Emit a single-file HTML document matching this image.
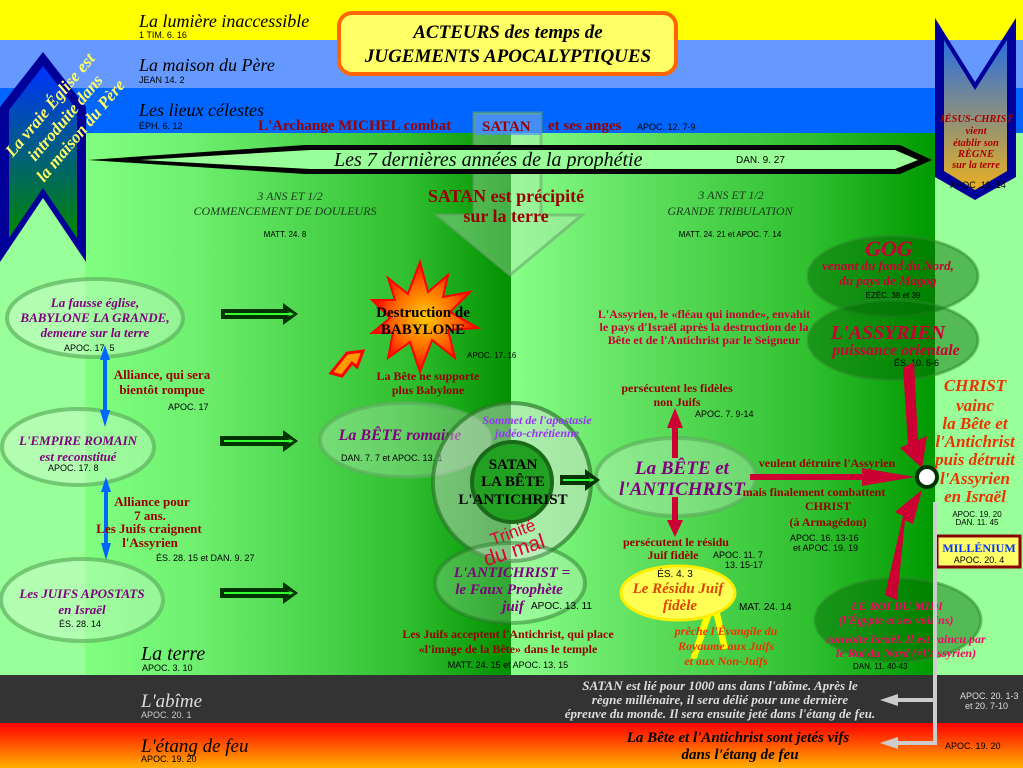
<!DOCTYPE html>
<html><head><meta charset="utf-8"><style>
html,body{margin:0;padding:0;width:1023px;height:768px;overflow:hidden}
svg{display:block}
.s{font-family:"Liberation Serif",serif}
.a{font-family:"Liberation Sans",sans-serif}
</style></head><body>
<svg width="1023" height="768" viewBox="0 0 1023 768" xmlns="http://www.w3.org/2000/svg">
<defs>
<linearGradient id="g1" x1="0" x2="1" y1="0" y2="0">
<stop offset="0" stop-color="#80ff80"/><stop offset="0.25" stop-color="#70f070"/><stop offset="0.75" stop-color="#30c030"/><stop offset="1" stop-color="#009000"/></linearGradient>
<linearGradient id="g2" x1="0" x2="1" y1="0" y2="0">
<stop offset="0" stop-color="#88ff88"/><stop offset="0.3" stop-color="#60e060"/><stop offset="0.7" stop-color="#30c030"/><stop offset="1" stop-color="#009900"/></linearGradient>
<linearGradient id="fire" x1="0" x2="0" y1="0" y2="1">
<stop offset="0" stop-color="#ff0000"/><stop offset="1" stop-color="#ffb000"/></linearGradient>
<linearGradient id="lb" x1="0" x2="0" y1="0" y2="1">
<stop offset="0" stop-color="#0033ff"/><stop offset="1" stop-color="#008800"/></linearGradient>
<linearGradient id="rb" x1="0" x2="0" y1="0" y2="1">
<stop offset="0" stop-color="#2a6ee0"/><stop offset="1" stop-color="#e8b020"/></linearGradient>
<radialGradient id="star"><stop offset="0" stop-color="#ffcc00"/><stop offset="0.6" stop-color="#ff6600"/><stop offset="1" stop-color="#ff0000"/></radialGradient>
</defs>
<rect x="0" y="0" width="1023" height="40" fill="#ffff00"/>
<rect x="0" y="40" width="1023" height="48" fill="#6699ff"/>
<rect x="0" y="88" width="1023" height="45" fill="#0066ff"/>
<rect x="0" y="133" width="1023" height="542" fill="#99ff99"/>
<rect x="85" y="133" width="426" height="542" fill="url(#g1)"/>
<rect x="511" y="133" width="424" height="542" fill="url(#g2)"/>
<rect x="0" y="675" width="1023" height="48" fill="#333333"/>
<rect x="0" y="723" width="1023" height="45" fill="url(#fire)"/>

<rect x="339" y="13" width="337" height="61" rx="13" fill="#ffff66" stroke="#ff6600" stroke-width="4"/>
<text x="508" y="38" text-anchor="middle" class="s" font-style="italic" font-weight="bold" font-size="19">ACTEURS des temps de</text>
<text x="508" y="62" text-anchor="middle" class="s" font-style="italic" font-weight="bold" font-size="19">JUGEMENTS APOCALYPTIQUES</text>

<g class="s" font-style="italic" font-size="18">
<text x="139" y="27">La lumière inaccessible</text>
<text x="139" y="71">La maison du Père</text>
<text x="139" y="116">Les lieux célestes</text>
<text x="141" y="660" font-size="20">La terre</text>
<text x="141" y="707" font-size="19" fill="#dddddd">L'abîme</text>
<text x="141" y="752" font-size="19">L'étang de feu</text>
</g>
<g class="a" font-size="9">
<text x="139" y="38">1 TIM. 6. 16</text>
<text x="139" y="83">JEAN 14. 2</text>
<text x="139" y="129">ÉPH. 6. 12</text>
<text x="142" y="671">APOC. 3. 10</text>
<text x="141" y="718" fill="#cccccc">APOC. 20. 1</text>
<text x="141" y="762">APOC. 19. 20</text>
</g>

<path d="M474 113 H541 V215 H582 L510 275 L437 215 H474 Z" fill="#c8e8c8" fill-opacity="0.35" stroke="#6aa86a" stroke-opacity="0.6" stroke-width="3"/>

<text x="258" y="130" class="s" font-weight="bold" font-size="15" fill="#990000">L'Archange MICHEL combat</text>
<rect x="475" y="115" width="66" height="20" fill="#4488ff" fill-opacity="0.6"/>
<text x="482" y="131" class="s" font-weight="bold" font-size="15" fill="#990000">SATAN</text>
<text x="548" y="130" class="s" font-weight="bold" font-size="15" fill="#990000">et ses anges</text>
<text x="637" y="130" class="a" font-size="9">APOC. 12. 7-9</text>

<path d="M88 160 L305 145 L900 145 L932 160 L900 174 L305 174 Z" fill="#000"/>
<path d="M140 160 L310 150 L895 150 L918 160 L895 169 L310 169 Z" fill="#99ff99"/>
<text x="334" y="166" class="s" font-style="italic" font-size="20">Les 7 dernières années de la prophétie</text>
<text x="736" y="163" class="a" font-size="10">DAN. 9. 27</text>

<path d="M0 107 L43 52 L86 107 L86 262 L43 198 L0 262 Z" fill="#000099"/>
<path d="M9 110 L43 66 L77 110 L77 238 L43 188 L9 238 Z" fill="url(#lb)"/>
<g class="s" font-style="italic" font-weight="bold" font-size="17" fill="#ffff66" transform="rotate(-50 68 120)">
<text x="68" y="102" text-anchor="middle">La vraie Église est</text>
<text x="68" y="122" text-anchor="middle">introduite dans</text>
<text x="68" y="142" text-anchor="middle">la maison du Père</text>
</g>

<path d="M935 18 L975 82 L1016 18 L1016 177 L975 200 L935 177 Z" fill="#000099"/>
<path d="M944 40 L975 90 L1007 40 L1007 171 L975 190 L944 171 Z" fill="url(#rb)"/>
<g class="s" font-style="italic" font-weight="bold" font-size="10.5" fill="#aa0000" text-anchor="middle">
<text x="976" y="122">JÉSUS-CHRIST</text>
<text x="976" y="134">vient</text>
<text x="976" y="146">établir son</text>
<text x="976" y="157">RÈGNE</text>
<text x="976" y="168">sur la terre</text>
</g>
<text x="978" y="188" text-anchor="middle" class="a" font-size="9">APOC .19. 14</text>

<g class="s" font-style="italic" font-size="12" fill="#1a3a1a" text-anchor="middle">
<text x="290" y="200">3 ANS ET 1/2</text>
<text x="285" y="215">COMMENCEMENT DE DOULEURS</text>
<text x="731" y="199">3 ANS ET 1/2</text>
<text x="730" y="215">GRANDE TRIBULATION</text>
</g>
<text x="285" y="237" text-anchor="middle" class="a" font-size="8">MATT. 24. 8</text>
<text x="730" y="237" text-anchor="middle" class="a" font-size="8">MATT. 24. 21 et APOC. 7. 14</text>
<text x="506" y="202" text-anchor="middle" class="s" font-weight="bold" font-size="18" fill="#990000">SATAN est précipité</text>
<text x="506" y="222" text-anchor="middle" class="s" font-weight="bold" font-size="18" fill="#990000">sur la terre</text>

<g fill="#ffffff" fill-opacity="0.25" stroke="#5cb05c" stroke-opacity="0.7" stroke-width="4">
<ellipse cx="95" cy="318" rx="88" ry="39"/>
<ellipse cx="78" cy="447" rx="76" ry="38"/>
<ellipse cx="82" cy="600" rx="81" ry="41"/>
<ellipse cx="405" cy="440" rx="85" ry="37"/>
<ellipse cx="676" cy="477" rx="80" ry="39"/>
</g>
<g class="s" font-style="italic" font-weight="bold" fill="#800080" text-anchor="middle">
<text x="95" y="307" font-size="13">La fausse église,</text>
<text x="95" y="322" font-size="13">BABYLONE LA GRANDE,</text>
<text x="95" y="337" font-size="13">demeure sur la terre</text>
<text x="78" y="445" font-size="13">L'EMPIRE ROMAIN</text>
<text x="78" y="461" font-size="13">est reconstitué</text>
<text x="82" y="598" font-size="13">Les JUIFS APOSTATS</text>
<text x="82" y="614" font-size="13">en Israël</text>
<text x="400" y="440" font-size="16">La BÊTE romaine</text>
<text x="682" y="474" font-size="19">La BÊTE et</text>
<text x="682" y="495" font-size="19">l'ANTICHRIST</text>
</g>
<g class="a" font-size="9">
<text x="64" y="351">APOC. 17. 5</text>
<text x="48" y="471">APOC. 17. 8</text>
<text x="59" y="627">ÉS. 28. 14</text>
<text x="341" y="461">DAN. 7. 7 et  APOC. 13. 1</text>
</g>

<g fill="#0066ff">
<path d="M105 345 L110 360 L107 360 L107 410 L110 410 L105 427 L100 410 L103 410 L103 360 L100 360 Z"/>
<path d="M106 477 L111 492 L108 492 L108 543 L111 543 L106 560 L101 543 L104 543 L104 492 L101 492 Z"/>
</g>
<g class="s" font-weight="bold" font-size="13" fill="#990000" text-anchor="middle">
<text x="162" y="379">Alliance, qui sera</text>
<text x="162" y="394">bientôt rompue</text>
<text x="152" y="506">Alliance pour</text>
<text x="150" y="520">7 ans.</text>
<text x="149" y="533">Les Juifs craignent</text>
<text x="150" y="547">l'Assyrien</text>
</g>
<text x="168" y="410" class="a" font-size="9">APOC. 17</text>
<text x="156" y="561" class="a" font-size="9">ÉS. 28. 15 et DAN. 9. 27</text>

<path d="M420 262 L428 292 L448 275 L443 297 L470 292 L450 312 L478 328 L448 330 L455 358 L432 340 L420 372 L410 342 L388 358 L393 333 L372 333 L390 318 L372 300 L395 300 L388 278 L408 294 Z" fill="url(#star)" stroke="#ff0000" stroke-width="2"/>
<text x="423" y="317" text-anchor="middle" class="s" font-weight="bold" font-size="15">Destruction de</text>
<text x="423" y="334" text-anchor="middle" class="s" font-weight="bold" font-size="15">BABYLONE</text>
<text x="467" y="358" class="a" font-size="8">APOC. 17. 16</text>
<path d="M331 373 L347 353 L363 351 L357 367 L352 363 L342 376 Z" fill="#ff9900" stroke="#ff0000" stroke-width="3"/>
<text x="428" y="380" text-anchor="middle" class="s" font-weight="bold" font-size="12" fill="#990000">La Bête ne supporte</text>
<text x="428" y="394" text-anchor="middle" class="s" font-weight="bold" font-size="12" fill="#990000">plus Babylone</text>

<circle cx="512" cy="482" r="79" fill="#dddddd" fill-opacity="0.45" stroke="#2a7a2a" stroke-opacity="0.7" stroke-width="4"/>
<ellipse cx="510" cy="583" rx="75" ry="40" fill="#ffffff" fill-opacity="0.2" stroke="#2a7a2a" stroke-opacity="0.5" stroke-width="4"/>
<circle cx="512" cy="482" r="40" fill="#22a022" stroke="#1a6a1a" stroke-width="4"/>
<g class="s" font-weight="bold" font-size="15" text-anchor="middle">
<text x="513" y="469">SATAN</text>
<text x="513" y="486">LA BÊTE</text>
<text x="513" y="504">L'ANTICHRIST</text>
</g>
<text x="537" y="424" text-anchor="middle" class="s" font-style="italic" font-weight="bold" font-size="12" fill="#9933ff">Sommet de l'apostasie</text>
<text x="537" y="437" text-anchor="middle" class="s" font-style="italic" font-weight="bold" font-size="12" fill="#9933ff">judéo-chrétienne</text>
<text x="512" y="538" text-anchor="middle" class="a" font-size="17" fill="#dd0033" transform="rotate(-20 512 530)">Trinité</text>
<text x="514" y="557" text-anchor="middle" class="a" font-size="21" fill="#dd0033" transform="rotate(-18 514 550)">du mal</text>
<g class="s" font-style="italic" font-weight="bold" font-size="15" fill="#800080" text-anchor="middle">
<text x="512" y="577">L'ANTICHRIST =</text>
<text x="509" y="594">le Faux Prophète</text>
<text x="513" y="611">juif</text>
</g>
<text x="531" y="609" class="a" font-size="10">APOC. 13. 11</text>
<text x="508" y="638" text-anchor="middle" class="s" font-weight="bold" font-size="12" fill="#990000">Les Juifs acceptent l'Antichrist, qui place</text>
<text x="508" y="653" text-anchor="middle" class="s" font-weight="bold" font-size="12" fill="#990000">«l'image de la Bête» dans le temple</text>
<text x="508" y="668" text-anchor="middle" class="a" font-size="9">MATT. 24. 15 et APOC. 13. 15</text>

<g>
<path d="M221 309 H283 V303 L298 314 L283 325 V319 H221 Z" fill="#003300"/>
<path d="M225 313 H290 L287 311 L294 314 L287 317 L290 315 H225 Z" fill="#33ff33"/>
<path d="M220 436 H283 V430 L298 441 L283 452 V446 H220 Z" fill="#003300"/>
<path d="M224 440 H290 L287 438 L294 441 L287 444 L290 442 H224 Z" fill="#33ff33"/>
<path d="M220 588 H283 V582 L298 593 L283 604 V598 H220 Z" fill="#003300"/>
<path d="M224 592 H290 L287 590 L294 593 L287 596 L290 594 H224 Z" fill="#33ff33"/>
<path d="M560 475 H585 V469 L600 480 L585 491 V485 H560 Z" fill="#003300"/>
<path d="M563 479 H591 L588 477 L595 480 L588 483 L591 481 H563 Z" fill="#33ff33"/>
</g>

<g fill="#006600" fill-opacity="0.45" stroke="#2a8a2a" stroke-opacity="0.5" stroke-width="3">
<ellipse cx="893" cy="276" rx="85" ry="40"/>
<ellipse cx="893" cy="340" rx="85" ry="40"/>
<ellipse cx="898" cy="620" rx="83" ry="42"/>
</g>
<g class="s" font-style="italic" font-weight="bold" fill="#cc0033" text-anchor="middle">
<text x="889" y="256" font-size="22">GOG</text>
<text x="888" y="270" font-size="13">venant du fond du Nord,</text>
<text x="888" y="285" font-size="13">du pays de Magog</text>
<text x="888" y="339" font-size="20">L'ASSYRIEN</text>
<text x="896" y="355" font-size="16">puissance orientale</text>
<text x="897" y="610" font-size="12" fill="#ff0066">LE ROI DU MIDI</text>
<text x="896" y="624" font-size="12" fill="#ff0066">(l'Égypte et ses voisins)</text>
<text x="906" y="643" font-size="12" fill="#ff0066">convoite Israël. Il est vaincu par</text>
<text x="906" y="657" font-size="12" fill="#ff0066">le Roi du Nord (=l'Assyrien)</text>
</g>
<text x="893" y="298" text-anchor="middle" class="a" font-size="8">ÉZÉC. 38 et 39</text>
<text x="894" y="366" class="a" font-size="9">ÉS. 10. 5-6</text>
<text x="853" y="669" class="a" font-size="8">DAN. 11. 40-43</text>
<g class="s" font-weight="bold" font-size="12" fill="#cc0033" text-anchor="middle">
<text x="704" y="318">L'Assyrien, le «fléau qui inonde», envahit</text>
<text x="704" y="331">le pays d'Israël après la destruction de la</text>
<text x="704" y="344">Bête et de l'Antichrist par le Seigneur</text>
</g>

<g fill="#cc0033">
<path d="M672 458 V428 H667 L675 408 L683 428 H678 V458 Z"/>
<path d="M672 497 V520 H667 L675 537 L683 520 H678 V497 Z"/>
<path d="M750 474 H862 V468 L915 477 L862 486 V480 H750 Z"/>
<path d="M903 368 L914 362 L918 440 L927 436 L922 468 L900 448 L908 444 Z"/>
<path d="M885 595 L897 600 L905 520 L913 524 L922 490 L895 512 L903 516 Z"/>
</g>
<circle cx="927" cy="477" r="10" fill="#ffffff" stroke="#003300" stroke-width="4"/>
<g class="s" font-weight="bold" font-size="12" fill="#990000" text-anchor="middle">
<text x="677" y="392">persécutent les fidèles</text>
<text x="677" y="406">non Juifs</text>
<text x="676" y="546">persécutent le résidu</text>
<text x="673" y="559">Juif fidèle</text>
<text x="827" y="467">veulent détruire l'Assyrien</text>
<text x="814" y="496">mais finalement combattent</text>
<text x="828" y="510">CHRIST</text>
<text x="828" y="526">(à Armagédon)</text>
</g>
<text x="695" y="417" class="a" font-size="9">APOC. 7. 9-14</text>
<text x="713" y="558" class="a" font-size="9">APOC. 11. 7</text>
<text x="725" y="568" class="a" font-size="9">13. 15-17</text>
<text x="790" y="541" class="a" font-size="9">APOC. 16. 13-16</text>
<text x="793" y="551" class="a" font-size="9">et APOC. 19. 19</text>

<path d="M705 612 L690 660 L697 658 L712 614 Z M712 608 L722 650 L728 648 L718 604 Z" fill="#ffff00"/>
<ellipse cx="678" cy="593" rx="57" ry="27" fill="#ffff55" stroke="#ffee00" stroke-width="3"/>
<text x="675" y="577" text-anchor="middle" class="a" font-size="10">ÉS. 4. 3</text>
<text x="678" y="593" text-anchor="middle" class="s" font-style="italic" font-weight="bold" font-size="15" fill="#dd4400">Le Résidu Juif</text>
<text x="680" y="610" text-anchor="middle" class="s" font-style="italic" font-weight="bold" font-size="15" fill="#dd4400">fidèle</text>
<text x="739" y="610" class="a" font-size="10">MAT. 24. 14</text>
<g class="s" font-style="italic" font-weight="bold" font-size="12" fill="#ee3300" text-anchor="middle">
<text x="726" y="635">prêche l'Évangile du</text>
<text x="726" y="650">Royaume aux Juifs</text>
<text x="726" y="665">et aux Non-Juifs</text>
</g>

<g class="s" font-style="italic" font-weight="bold" font-size="17" fill="#ee3300" text-anchor="middle">
<text x="975" y="391">CHRIST</text>
<text x="975" y="411">vainc</text>
<text x="975" y="429">la Bête et</text>
<text x="975" y="447">l'Antichrist</text>
<text x="975" y="465">puis détruit</text>
<text x="975" y="484">l'Assyrien</text>
<text x="975" y="502">en Israël</text>
</g>
<text x="977" y="517" text-anchor="middle" class="a" font-size="8">APOC. 19. 20</text>
<text x="977" y="525" text-anchor="middle" class="a" font-size="8">DAN. 11. 45</text>
<rect x="937" y="536" width="83" height="31" fill="#ffff66" stroke="#880000" stroke-width="3"/>
<text x="979" y="552" text-anchor="middle" class="s" font-weight="bold" font-size="12" fill="#0033ff">MILLÉNIUM</text>
<text x="979" y="563" text-anchor="middle" class="a" font-size="9">APOC. 20. 4</text>

<path d="M935 502 V743 H886" stroke="#cccccc" stroke-width="4" fill="none"/>
<path d="M935 700 H886" stroke="#cccccc" stroke-width="4" fill="none"/>
<path d="M880 700 L898 694 L898 706 Z M880 743 L898 737 L898 749 Z" fill="#cccccc"/>

<g class="s" font-style="italic" font-weight="bold" font-size="13" fill="#dddddd" text-anchor="middle">
<text x="720" y="690">SATAN est lié pour 1000 ans dans l'abîme. Après le</text>
<text x="720" y="704">règne millénaire, il sera délié pour une dernière</text>
<text x="720" y="718">épreuve du monde. Il sera ensuite jeté dans l'étang de feu.</text>
</g>
<text x="960" y="699" class="a" font-size="9" fill="#dddddd">APOC. 20. 1-3</text>
<text x="965" y="709" class="a" font-size="9" fill="#dddddd">et 20. 7-10</text>
<g class="s" font-style="italic" font-weight="bold" font-size="15" text-anchor="middle">
<text x="738" y="742">La Bête et l'Antichrist sont jetés vifs</text>
<text x="740" y="759">dans l'étang de feu</text>
</g>
<text x="945" y="749" class="a" font-size="9">APOC. 19. 20</text>
</svg>
</body></html>
